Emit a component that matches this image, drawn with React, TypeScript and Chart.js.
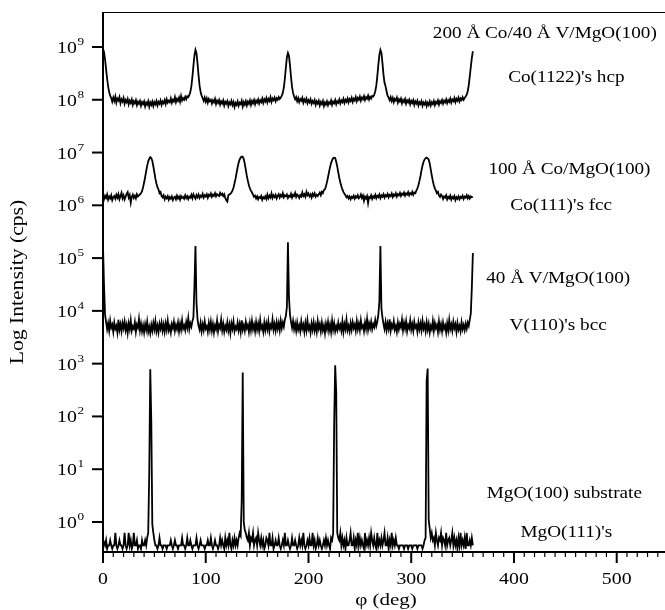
import React, { useEffect, useRef } from "react";
import { Chart, registerables } from "chart.js";

Chart.register(...registerables);

// phi sampling grid (deg), 1 degree steps 0..360
const PHI_DEG: number[] = Array.from({ length: 361 }, (_, i) => i);

// 200 Å Co / 40 Å V / MgO(100) : Co(11-22) hcp  (cps)
const HCP_CO_V: number[] = [
  9.3e8, 8.0e8, 5.8e8, 3.8e8, 2.5e8, 1.8e8, 1.4e8, 1.2e8, 1.08e8, 0.92e8,
  1.1e8, 0.95e8, 1.15e8, 0.88e8, 1.05e8, 0.97e8, 1.12e8, 0.86e8, 1.02e8, 0.93e8,
  1.08e8, 0.84e8, 0.99e8, 0.9e8, 1.04e8, 0.82e8, 0.96e8, 0.87e8, 1.01e8, 0.8e8,
  0.94e8, 0.86e8, 0.98e8, 0.79e8, 0.92e8, 0.84e8, 0.95e8, 0.77e8, 0.9e8, 0.83e8,
  0.93e8, 0.75e8, 0.88e8, 0.81e8, 0.94e8, 0.74e8, 0.89e8, 0.8e8, 0.92e8, 0.76e8,
  0.9e8, 0.82e8, 0.95e8, 0.78e8, 0.91e8, 0.84e8, 0.97e8, 0.8e8, 0.93e8, 0.86e8,
  0.99e8, 0.83e8, 1.02e8, 0.88e8, 0.96e8, 0.9e8, 1.06e8, 0.87e8, 1.0e8, 0.93e8,
  1.12e8, 0.9e8, 1.04e8, 0.95e8, 1.1e8, 0.92e8, 1.18e8, 0.97e8, 1.07e8, 1.0e8,
  1.14e8, 1.02e8, 1.16e8, 1.12e8, 1.22e8, 1.4e8, 1.8e8, 2.7e8, 4.4e8, 6.9e8,
  8.8e8, 7.6e8, 4.9e8, 2.9e8, 1.85e8, 1.4e8, 1.2e8, 1.08e8, 0.95e8, 1.1e8,
  0.92e8, 1.06e8, 0.88e8, 1.03e8, 0.94e8, 1.0e8, 0.85e8, 0.98e8, 0.9e8, 1.04e8,
  0.83e8, 0.96e8, 0.87e8, 0.99e8, 0.81e8, 0.93e8, 0.85e8, 0.97e8, 0.78e8, 0.91e8,
  0.84e8, 0.94e8, 0.76e8, 0.89e8, 0.82e8, 0.95e8, 0.79e8, 0.9e8, 0.73e8, 0.87e8,
  0.8e8, 0.93e8, 0.77e8, 0.88e8, 0.83e8, 0.96e8, 0.75e8, 0.9e8, 0.81e8, 0.94e8,
  0.78e8, 0.92e8, 0.84e8, 0.97e8, 0.8e8, 0.95e8, 0.86e8, 0.99e8, 0.82e8, 0.96e8,
  0.88e8, 1.01e8, 0.85e8, 0.98e8, 0.9e8, 1.05e8, 0.87e8, 1.02e8, 0.93e8, 1.08e8,
  0.89e8, 1.04e8, 0.95e8, 1.12e8, 0.91e8, 1.06e8, 0.98e8, 1.1e8, 0.94e8, 1.07e8,
  1.0e8, 1.13e8, 1.03e8, 1.1e8, 1.2e8, 1.35e8, 1.7e8, 2.5e8, 4.1e8, 6.4e8,
  7.7e8, 6.8e8, 4.5e8, 2.7e8, 1.75e8, 1.35e8, 1.15e8, 1.02e8, 1.12e8, 0.94e8,
  1.07e8, 0.9e8, 1.03e8, 0.96e8, 1.09e8, 0.88e8, 1.01e8, 0.92e8, 1.05e8, 0.86e8,
  0.98e8, 0.89e8, 1.02e8, 0.84e8, 0.95e8, 0.87e8, 0.99e8, 0.8e8, 0.93e8, 0.85e8,
  0.96e8, 0.78e8, 0.91e8, 0.83e8, 0.95e8, 0.76e8, 0.89e8, 0.81e8, 0.93e8, 0.79e8,
  0.9e8, 0.84e8, 0.97e8, 0.8e8, 0.92e8, 0.86e8, 0.99e8, 0.82e8, 0.94e8, 0.88e8,
  1.01e8, 0.85e8, 0.97e8, 0.9e8, 1.04e8, 0.87e8, 1.0e8, 0.92e8, 1.06e8, 0.89e8,
  1.03e8, 0.95e8, 1.09e8, 0.91e8, 1.05e8, 0.97e8, 1.13e8, 0.94e8, 1.08e8, 1.0e8,
  1.15e8, 0.96e8, 1.1e8, 1.02e8, 1.17e8, 0.99e8, 1.12e8, 1.05e8, 1.2e8, 1.01e8,
  1.14e8, 1.06e8, 1.18e8, 1.15e8, 1.25e8, 1.45e8, 1.85e8, 2.8e8, 4.6e8, 7.1e8,
  8.8e8, 7.7e8, 5.0e8, 3.0e8, 2.1e8, 1.8e8, 1.45e8, 1.2e8, 1.1e8, 0.98e8,
  1.12e8, 0.95e8, 1.08e8, 0.9e8, 1.04e8, 0.97e8, 1.1e8, 0.88e8, 1.02e8, 0.93e8,
  1.05e8, 0.86e8, 0.99e8, 0.91e8, 1.03e8, 0.84e8, 0.97e8, 0.89e8, 1.0e8, 0.82e8,
  0.95e8, 0.87e8, 0.98e8, 0.8e8, 0.93e8, 0.85e8, 0.96e8, 0.78e8, 0.9e8, 0.83e8,
  0.94e8, 0.77e8, 0.89e8, 0.82e8, 0.92e8, 0.76e8, 0.88e8, 0.8e8, 0.93e8, 0.78e8,
  0.9e8, 0.83e8, 0.95e8, 0.79e8, 0.91e8, 0.85e8, 0.97e8, 0.81e8, 0.94e8, 0.87e8,
  0.99e8, 0.84e8, 0.96e8, 0.89e8, 1.02e8, 0.86e8, 0.98e8, 0.91e8, 1.05e8, 0.88e8,
  1.01e8, 0.94e8, 1.08e8, 0.9e8, 1.04e8, 0.96e8, 1.1e8, 0.93e8, 1.06e8, 0.99e8,
  1.12e8, 1.0e8, 1.08e8, 1.15e8, 1.25e8, 1.45e8, 1.9e8, 2.8e8, 4.2e8, 6.2e8,
  8.3e8,
];

// 100 Å Co / MgO(100) : Co(111) fcc  (cps)
const FCC_CO: number[] = [
  1.45e6, 1.3e6, 1.52e6, 1.38e6, 1.6e6, 1.28e6, 1.47e6, 1.35e6, 1.55e6, 1.25e6,
  1.42e6, 1.5e6, 1.33e6, 1.58e6, 1.4e6, 1.62e6, 1.3e6, 1.48e6, 1.72e6, 1.36e6,
  1.54e6, 1.29e6, 1.46e6, 1.65e6, 1.78e6, 1.4e6, 1.57e6, 1.12e6, 1.44e6, 1.6e6,
  1.38e6, 1.52e6, 1.35e6, 1.63e6, 1.48e6, 1.55e6, 1.62e6, 1.7e6, 1.85e6, 2.2e6,
  2.7e6, 3.4e6, 4.4e6, 5.6e6, 6.8e6, 7.6e6, 8.2e6, 7.9e6, 6.9e6, 5.5e6,
  4.2e6, 3.2e6, 2.6e6, 2.2e6, 2.0e6, 1.7e6, 1.78e6, 1.5e6, 1.42e6, 1.55e6,
  1.3e6, 1.46e6, 1.36e6, 1.5e6, 1.28e6, 1.43e6, 1.34e6, 1.48e6, 1.26e6, 1.4e6,
  1.45e6, 1.3e6, 1.52e6, 1.35e6, 1.47e6, 1.28e6, 1.5e6, 1.38e6, 1.44e6, 1.33e6,
  1.55e6, 1.37e6, 1.49e6, 1.31e6, 1.46e6, 1.4e6, 1.58e6, 1.36e6, 1.62e6, 1.45e6,
  1.34e6, 1.56e6, 1.42e6, 1.6e6, 1.38e6, 1.52e6, 1.44e6, 1.65e6, 1.4e6, 1.55e6,
  1.47e6, 1.62e6, 1.39e6, 1.58e6, 1.5e6, 1.68e6, 1.45e6, 1.6e6, 1.52e6, 1.7e6,
  1.48e6, 1.63e6, 1.55e6, 1.5e6, 1.72e6, 1.58e6, 1.66e6, 1.5e6, 1.62e6, 1.38e6,
  1.25e6, 1.18e6, 1.55e6, 1.6e6, 1.65e6, 1.75e6, 1.9e6, 2.15e6, 2.6e6, 3.2e6,
  4.1e6, 5.2e6, 6.4e6, 7.4e6, 8.0e6, 8.4e6, 8.3e6, 7.5e6, 6.1e6, 4.7e6,
  3.6e6, 2.9e6, 2.4e6, 2.1e6, 1.9e6, 1.75e6, 1.6e6, 1.45e6, 1.52e6, 1.35e6,
  1.48e6, 1.3e6, 1.44e6, 1.38e6, 1.5e6, 1.27e6, 1.42e6, 1.35e6, 1.48e6, 1.32e6,
  1.6e6, 1.36e6, 1.52e6, 1.4e6, 1.68e6, 1.38e6, 1.55e6, 1.43e6, 1.58e6, 1.35e6,
  1.5e6, 1.62e6, 1.4e6, 1.57e6, 1.46e6, 1.7e6, 1.42e6, 1.55e6, 1.48e6, 1.6e6,
  1.38e6, 1.52e6, 1.45e6, 1.65e6, 1.4e6, 1.58e6, 1.5e6, 1.72e6, 1.44e6, 1.6e6,
  1.52e6, 1.38e6, 1.56e6, 1.47e6, 1.75e6, 1.5e6, 1.62e6, 1.45e6, 1.8e6, 1.55e6,
  1.68e6, 1.48e6, 1.6e6, 1.4e6, 1.66e6, 1.52e6, 1.7e6, 1.46e6, 1.58e6, 1.5e6,
  1.62e6, 1.75e6, 1.55e6, 1.8e6, 1.7e6, 1.95e6, 2.0e6, 2.3e6, 2.75e6, 3.4e6,
  4.3e6, 5.3e6, 6.3e6, 7.2e6, 7.8e6, 8.0e6, 7.9e6, 6.7e6, 5.4e6, 4.2e6,
  3.3e6, 2.7e6, 2.3e6, 2.0e6, 1.8e6, 1.65e6, 1.55e6, 1.42e6, 1.5e6, 1.35e6,
  1.47e6, 1.3e6, 1.45e6, 1.38e6, 1.52e6, 1.33e6, 1.48e6, 1.4e6, 1.56e6, 1.36e6,
  1.42e6, 1.6e6, 1.38e6, 1.53e6, 1.22e6, 1.46e6, 1.35e6, 1.5e6, 1.1e6, 1.44e6,
  1.38e6, 1.55e6, 1.32e6, 1.48e6, 1.4e6, 1.58e6, 1.36e6, 1.52e6, 1.43e6, 1.6e6,
  1.37e6, 1.54e6, 1.45e6, 1.62e6, 1.4e6, 1.56e6, 1.48e6, 1.65e6, 1.42e6, 1.58e6,
  1.5e6, 1.68e6, 1.44e6, 1.6e6, 1.52e6, 1.7e6, 1.46e6, 1.63e6, 1.55e6, 1.72e6,
  1.5e6, 1.66e6, 1.58e6, 1.75e6, 1.52e6, 1.68e6, 1.6e6, 1.78e6, 1.55e6, 1.7e6,
  1.62e6, 1.8e6, 1.58e6, 1.75e6, 1.7e6, 1.9e6, 2.1e6, 2.4e6, 2.9e6, 3.6e6,
  4.6e6, 5.7e6, 6.7e6, 7.4e6, 7.8e6, 8.0e6, 7.7e6, 7.4e6, 6.2e6, 4.8e6,
  3.7e6, 2.9e6, 2.4e6, 2.1e6, 1.9e6, 1.7e6, 1.8e6, 1.55e6, 1.45e6, 1.6e6,
  1.5e6, 1.32e6, 1.47e6, 1.4e6, 1.55e6, 1.3e6, 1.45e6, 1.36e6, 1.52e6, 1.28e6,
  1.44e6, 1.35e6, 1.5e6, 1.25e6, 1.42e6, 1.33e6, 1.48e6, 1.3e6, 1.45e6, 1.38e6,
  1.52e6, 1.32e6, 1.46e6, 1.4e6, 1.55e6, 1.36e6, 1.5e6, 1.34e6, 1.47e6, 1.42e6,
  1.45e6,
];

// 40 Å V / MgO(100) : V(110) bcc  (cps)
const BCC_V: number[] = [
  1.7e5, 3.0e4, 8.5e3, 6.2e3, 4.5e3, 5.8e3, 4.2e3, 6.5e3, 4.8e3, 5.5e3,
  4.0e3, 6.0e3, 4.6e3, 5.2e3, 3.9e3, 6.8e3, 4.4e3, 5.6e3, 4.1e3, 5.9e3,
  4.7e3, 6.3e3, 4.3e3, 5.4e3, 3.8e3, 5.8e3, 4.5e3, 6.6e3, 4.2e3, 5.1e3,
  4.6e3, 6.1e3, 4.0e3, 5.5e3, 4.8e3, 7.0e3, 4.3e3, 5.7e3, 4.1e3, 5.3e3,
  3.9e3, 5.6e3, 4.4e3, 6.2e3, 4.0e3, 5.0e3, 3.8e3, 5.4e3, 4.2e3, 5.9e3,
  4.5e3, 6.4e3, 4.1e3, 5.2e3, 3.9e3, 5.7e3, 4.6e3, 6.0e3, 4.2e3, 5.5e3,
  4.0e3, 5.8e3, 4.4e3, 6.5e3, 4.3e3, 5.1e3, 3.9e3, 5.6e3, 4.7e3, 6.2e3,
  4.2e3, 5.4e3, 4.5e3, 6.0e3, 4.1e3, 5.7e3, 4.4e3, 6.6e3, 4.6e3, 5.3e3,
  4.3e3, 6.1e3, 4.8e3, 7.2e3, 4.5e3, 5.8e3, 5.0e3, 6.4e3, 7.5e3, 3.0e4,
  1.7e5, 1.4e4, 7.0e3, 5.2e3, 4.4e3, 6.0e3, 4.1e3, 5.5e3, 4.3e3, 6.3e3,
  4.6e3, 5.1e3, 4.0e3, 5.9e3, 4.4e3, 6.2e3, 4.2e3, 5.6e3, 3.9e3, 5.3e3,
  4.5e3, 6.5e3, 4.1e3, 5.4e3, 4.7e3, 6.8e3, 4.3e3, 5.7e3, 4.0e3, 5.2e3,
  4.4e3, 6.1e3, 4.2e3, 5.5e3, 3.8e3, 5.8e3, 4.6e3, 6.3e3, 4.1e3, 5.0e3,
  4.5e3, 6.0e3, 4.3e3, 5.6e3, 4.0e3, 6.6e3, 4.4e3, 5.3e3, 4.2e3, 6.2e3,
  4.7e3, 5.4e3, 4.0e3, 5.9e3, 4.3e3, 6.4e3, 4.5e3, 5.5e3, 4.1e3, 6.1e3,
  4.4e3, 5.7e3, 4.2e3, 6.7e3, 4.6e3, 5.2e3, 4.0e3, 6.0e3, 4.3e3, 5.8e3,
  4.5e3, 6.3e3, 4.1e3, 5.4e3, 4.8e3, 6.9e3, 4.4e3, 5.6e3, 4.2e3, 6.1e3,
  4.6e3, 5.9e3, 4.3e3, 6.5e3, 4.7e3, 6.0e3, 5.0e3, 6.8e3, 8.0e3, 1.2e4,
  2.0e5, 1.8e4, 8.5e3, 6.2e3, 4.8e3, 6.4e3, 4.5e3, 5.7e3, 4.2e3, 6.0e3,
  4.4e3, 5.3e3, 4.1e3, 6.3e3, 4.6e3, 5.5e3, 4.0e3, 5.9e3, 4.3e3, 6.6e3,
  4.5e3, 5.2e3, 3.9e3, 5.8e3, 4.4e3, 6.1e3, 4.2e3, 5.4e3, 4.0e3, 6.4e3,
  4.6e3, 5.6e3, 4.1e3, 6.0e3, 4.3e3, 5.3e3, 3.8e3, 5.7e3, 4.5e3, 6.2e3,
  4.2e3, 5.5e3, 4.0e3, 6.5e3, 4.4e3, 5.8e3, 4.1e3, 5.1e3, 4.3e3, 6.0e3,
  4.6e3, 5.4e3, 4.2e3, 6.3e3, 4.0e3, 5.6e3, 4.5e3, 6.8e3, 4.3e3, 5.2e3,
  4.1e3, 5.9e3, 4.4e3, 6.1e3, 4.7e3, 5.5e3, 4.2e3, 6.4e3, 4.5e3, 5.7e3,
  4.3e3, 6.6e3, 4.8e3, 5.3e3, 4.1e3, 6.0e3, 4.6e3, 7.0e3, 4.4e3, 5.8e3,
  4.7e3, 6.2e3, 4.5e3, 5.6e3, 4.9e3, 6.7e3, 5.2e3, 6.3e3, 8.5e3, 1.5e4,
  1.7e5, 1.1e4, 7.5e3, 5.6e3, 4.5e3, 6.1e3, 4.3e3, 5.8e3, 4.6e3, 6.9e3,
  4.2e3, 5.5e3, 4.8e3, 6.4e3, 4.4e3, 5.2e3, 4.0e3, 6.0e3, 4.5e3, 5.7e3,
  4.9e3, 6.8e3, 4.3e3, 5.9e3, 4.6e3, 6.3e3, 4.1e3, 5.4e3, 4.7e3, 6.6e3,
  4.4e3, 5.6e3, 4.2e3, 6.2e3, 4.8e3, 5.3e3, 4.0e3, 6.0e3, 4.5e3, 5.8e3,
  4.3e3, 6.5e3, 4.6e3, 5.5e3, 4.1e3, 6.1e3, 4.4e3, 5.7e3, 3.9e3, 5.2e3,
  4.5e3, 6.4e3, 4.2e3, 5.9e3, 4.7e3, 5.4e3, 4.0e3, 6.3e3, 4.4e3, 5.6e3,
  4.1e3, 6.0e3, 4.6e3, 5.3e3, 3.9e3, 5.8e3, 4.3e3, 6.7e3, 4.5e3, 5.5e3,
  4.2e3, 6.2e3, 4.7e3, 5.6e3, 4.0e3, 5.9e3, 4.4e3, 5.2e3, 4.1e3, 6.1e3,
  4.5e3, 5.4e3, 4.3e3, 5.7e3, 4.6e3, 6.0e3, 5.2e3, 6.8e3, 9.0e3, 2.8e4,
  1.25e5,
];

// MgO(100) substrate : MgO(111)  (cps)
const MGO_SUB: number[] = [
  0.45, 0.42, 0.36, 0.45, 0.31, 0.36, 0.36, 0.45, 0.36, 0.31,
  0.36, 0.36, 0.62, 0.36, 0.31, 0.36, 0.45, 0.36, 0.36, 0.31,
  0.36, 0.62, 0.36, 0.31, 0.36, 0.62, 0.36, 0.45, 0.31, 0.36,
  0.62, 0.36, 0.36, 0.45, 0.31, 0.36, 0.36, 0.31, 0.45, 0.36,
  0.36, 0.45, 0.36, 0.5, 0.62, 8.3, 780, 85, 0.9, 0.62,
  0.45, 0.36, 0.36, 0.31, 0.36, 0.5, 0.36, 0.36, 0.31, 0.36,
  0.36, 0.36, 0.31, 0.36, 0.36, 0.36, 0.45, 0.36, 0.31, 0.36,
  0.45, 0.36, 0.36, 0.31, 0.36, 0.36, 0.36, 0.5, 0.36, 0.36,
  0.31, 0.36, 0.5, 0.36, 0.36, 0.45, 0.36, 0.31, 0.36, 0.36,
  0.36, 0.5, 0.36, 0.31, 0.36, 0.45, 0.36, 0.36, 0.36, 0.31,
  0.36, 0.36, 0.45, 0.36, 0.36, 0.5, 0.36, 0.31, 0.36, 0.45,
  0.36, 0.36, 0.31, 0.36, 0.5, 0.36, 0.45, 0.36, 0.31, 0.5,
  0.36, 0.45, 0.36, 0.62, 0.36, 0.31, 0.45, 0.36, 0.5, 0.36,
  0.45, 0.36, 0.5, 0.62, 0.55, 2.6, 680, 1.0, 0.7, 0.62,
  0.5, 0.45, 0.62, 0.36, 0.5, 0.45, 0.62, 0.36, 0.45, 0.5,
  0.36, 0.62, 0.45, 0.36, 0.5, 0.36, 0.45, 0.31, 0.36, 0.5,
  0.45, 0.36, 0.62, 0.36, 0.36, 0.5, 0.31, 0.36, 0.45, 0.36,
  0.36, 0.5, 0.36, 0.31, 0.36, 0.45, 0.36, 0.62, 0.36, 0.36,
  0.45, 0.36, 0.31, 0.36, 0.5, 0.36, 0.36, 0.45, 0.36, 0.31,
  0.36, 0.5, 0.36, 0.45, 0.36, 0.62, 0.36, 0.31, 0.36, 0.45,
  0.36, 0.5, 0.36, 0.36, 0.62, 0.36, 0.45, 0.31, 0.36, 0.5,
  0.36, 0.45, 0.36, 0.31, 0.36, 0.45, 0.36, 0.5, 0.36, 0.45,
  0.36, 0.31, 0.5, 0.45, 0.6, 74, 930, 290, 0.62, 0.5,
  0.45, 0.62, 0.36, 0.5, 0.36, 0.45, 0.31, 0.5, 0.36, 0.36,
  0.45, 0.62, 0.36, 0.36, 0.5, 0.31, 0.45, 0.36, 0.62, 0.36,
  0.5, 0.36, 0.45, 0.36, 0.31, 0.62, 0.36, 0.45, 0.36, 0.5,
  0.36, 0.62, 0.45, 0.36, 0.5, 0.36, 0.31, 0.62, 0.36, 0.45,
  0.36, 0.5, 0.36, 0.45, 0.62, 0.36, 0.36, 0.5, 0.31, 0.45,
  0.36, 0.62, 0.36, 0.45, 0.36, 0.5, 0.36, 0.36, 0.31, 0.36,
  0.36, 0.36, 0.36, 0.31, 0.36, 0.36, 0.36, 0.31, 0.36, 0.36,
  0.36, 0.31, 0.36, 0.36, 0.36, 0.36, 0.31, 0.36, 0.36, 0.36,
  0.36, 0.31, 0.36, 0.45, 0.5, 480, 810, 1.1, 0.75, 0.5,
  0.62, 0.45, 0.5, 0.36, 0.62, 0.45, 0.36, 0.5, 0.45, 0.62,
  0.36, 0.5, 0.45, 0.36, 0.62, 0.36, 0.45, 0.5, 0.36, 0.45,
  0.62, 0.36, 0.5, 0.36, 0.45, 0.31, 0.5, 0.36, 0.62, 0.36,
  0.45, 0.36, 0.5, 0.31, 0.62, 0.36, 0.36, 0.45, 0.36, 0.5,
  0.36,
];

// axis ticks
const X_MAJOR_TICKS = [0, 100, 200, 300, 400, 500];
const X_MINOR_STEP = 10;
const X_MINOR_LAST = 540;
const Y_DECADES = [0, 1, 2, 3, 4, 5, 6, 7, 8, 9];

// annotations (anchored in data units: phi deg, cps)
const ANNOTATIONS: { text: string; phi: number; cps: number }[] = [
  { text: "200 Å Co/40 Å V/MgO(100)", phi: 430, cps: 1.77e9 },
  { text: "Co(1122)'s hcp", phi: 451, cps: 2.6e8 },
  { text: "100 Å Co/MgO(100)", phi: 454, cps: 4.7e6 },
  { text: "Co(111)'s fcc", phi: 446, cps: 1.0e6 },
  { text: "40 Å V/MgO(100)", phi: 443, cps: 4.0e4 },
  { text: "V(110)'s bcc", phi: 443, cps: 5.2e3 },
  { text: "MgO(100) substrate", phi: 449, cps: 3.4 },
  { text: "MgO(111)'s", phi: 451, cps: 0.62 },
];

const X_TITLE = "φ (deg)";
const Y_TITLE = "Log Intensity (cps)";

const FONT = "'Liberation Serif','Times New Roman',serif";
const SX = 1.2;

function stretchText(
  ctx: CanvasRenderingContext2D,
  text: string,
  x: number,
  y: number,
  align: "left" | "center" | "right",
  size: number,
  sx: number = SX
) {
  ctx.save();
  ctx.font = `${size}px ${FONT}`;
  const w = ctx.measureText(text).width * sx;
  const left = align === "left" ? x : align === "center" ? x - w / 2 : x - w;
  ctx.translate(left, y);
  ctx.scale(sx, 1);
  ctx.textAlign = "left";
  ctx.fillText(text, 0, 0);
  ctx.restore();
  return w;
}

const decorPlugin = {
  id: "decor",
  afterDraw(chart: any) {
    const { ctx, chartArea: a, scales } = chart;
    const xs = scales.x;
    const ys = scales.y;
    ctx.save();
    ctx.strokeStyle = "#000";
    ctx.fillStyle = "#000";

    // frame: left and bottom axes, thin top line
    ctx.lineWidth = 2;
    ctx.beginPath();
    ctx.moveTo(a.left, a.top);
    ctx.lineTo(a.left, a.bottom);
    ctx.lineTo(a.right, a.bottom);
    ctx.stroke();
    ctx.lineWidth = 1.2;
    ctx.beginPath();
    ctx.moveTo(a.left, a.top + 0.5);
    ctx.lineTo(a.right, a.top + 0.5);
    ctx.stroke();

    // y ticks + labels
    ctx.textBaseline = "alphabetic";
    for (const n of Y_DECADES) {
      const py = ys.getPixelForValue(Math.pow(10, n));
      ctx.lineWidth = 2;
      ctx.beginPath();
      ctx.moveTo(a.left - 11, py);
      ctx.lineTo(a.left, py);
      ctx.stroke();
      ctx.font = `11px ${FONT}`;
      const ew = ctx.measureText(String(n)).width * SX;
      const right = a.left - 19;
      stretchText(ctx, String(n), right - ew, py - 2, "left", 11);
      stretchText(ctx, "10", right - ew - 0.5, py + 6, "right", 16.5);
    }

    // x ticks + labels
    for (let v = 0; v <= X_MINOR_LAST; v += X_MINOR_STEP) {
      const px = xs.getPixelForValue(v);
      const major = X_MAJOR_TICKS.includes(v);
      ctx.lineWidth = major ? 2 : 1.2;
      ctx.beginPath();
      ctx.moveTo(px, a.bottom);
      ctx.lineTo(px, a.bottom + (major ? 11 : 5));
      ctx.stroke();
    }
    for (const v of X_MAJOR_TICKS) {
      const px = xs.getPixelForValue(v);
      stretchText(ctx, String(v), px, a.bottom + 32, "center", 16.5);
    }

    // axis titles
    stretchText(ctx, X_TITLE, (a.left + a.right) / 2 + 2, 605, "center", 17.5);
    ctx.save();
    ctx.translate(18, (a.top + a.bottom) / 2);
    ctx.rotate(-Math.PI / 2);
    ctx.textBaseline = "middle";
    stretchText(ctx, Y_TITLE, 0, 0, "center", 18);
    ctx.restore();

    // annotations
    ctx.textBaseline = "middle";
    for (const t of ANNOTATIONS) {
      stretchText(ctx, t.text, xs.getPixelForValue(t.phi), ys.getPixelForValue(t.cps), "center", 16);
    }
    ctx.restore();
  },
};

export default function App() {
  const ref = useRef<HTMLCanvasElement | null>(null);

  useEffect(() => {
    document.body.style.margin = "0";
    const canvas = ref.current;
    if (!canvas) return;
    const mk = (label: string, values: number[]) => ({
      label,
      data: values,
      borderColor: "#000",
      borderWidth: 1.8,
      pointRadius: 0,
      tension: 0,
      fill: false,
    });
    const chart = new Chart(canvas, {
      type: "line",
      data: {
        labels: PHI_DEG,
        datasets: [
          mk("200 Å Co/40 Å V/MgO(100)", HCP_CO_V),
          mk("100 Å Co/MgO(100)", FCC_CO),
          mk("40 Å V/MgO(100)", BCC_V),
          mk("MgO(100) substrate", MGO_SUB),
        ],
      },
      options: {
        responsive: false,
        animation: false,
        layout: { padding: { top: 12, right: 0, left: 0, bottom: 0 } },
        plugins: { legend: { display: false }, tooltip: { enabled: false } },
        scales: {
          x: {
            type: "linear",
            min: 0,
            max: 547,
            grid: { display: false },
            border: { display: false },
            ticks: { display: false },
            afterFit: (s: any) => {
              s.height = 58;
            },
          },
          y: {
            type: "logarithmic",
            min: 0.27,
            max: 4.6e9,
            grid: { display: false },
            border: { display: false },
            ticks: { display: false },
            afterFit: (s: any) => {
              s.width = 103;
            },
          },
        },
      },
      plugins: [decorPlugin],
    });
    return () => chart.destroy();
  }, []);

  return (
    <div style={{ position: "absolute", left: 0, top: 0, width: 665, height: 610, background: "#fff" }}>
      <canvas ref={ref} width={665} height={610} />
    </div>
  );
}
